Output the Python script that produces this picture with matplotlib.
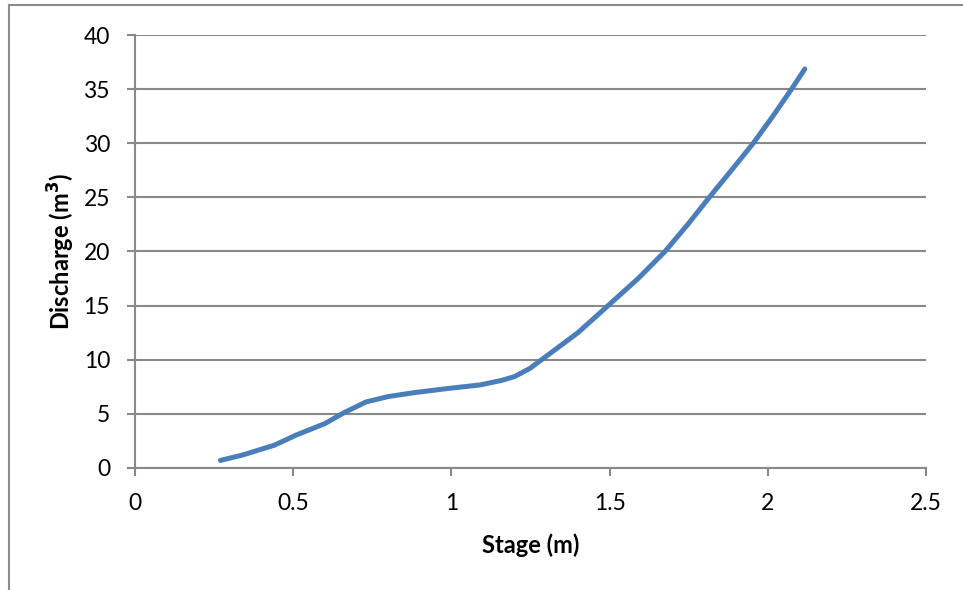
import matplotlib
matplotlib.use("Agg")
import matplotlib.pyplot as plt
from matplotlib.lines import Line2D

# ---- Rating curve
stage = [0.27, 0.34, 0.44, 0.51, 0.60, 0.66, 0.73, 0.80, 0.88, 0.99, 1.09, 1.16,
         1.20, 1.248, 1.285, 1.40, 1.495, 1.59, 1.675, 1.747, 1.815, 1.885, 1.954,
         2.016, 2.075, 2.117]
discharge = [0.7, 1.2, 2.1, 3.05, 4.1, 5.1, 6.1, 6.6, 6.95, 7.35, 7.67, 8.1,
             8.45, 9.2, 10.0, 12.5, 15.0, 17.5, 20.0, 22.5, 25.0, 27.5, 30.0,
             32.5, 35.0, 36.86]

x_ticks = [0, 0.5, 1, 1.5, 2, 2.5]
x_tick_labels = ["0", "0.5", "1", "1.5", "2", "2.5"]
y_ticks = [0, 5, 10, 15, 20, 25, 30, 35, 40]

plt.rcParams["font.family"] = ["Lato", "DejaVu Sans"]

fig = plt.figure(figsize=(9.63, 5.9), dpi=100)
ax = fig.add_axes([135 / 963, 122 / 590, 791 / 963, 433 / 590])

grey = "#898989"

ax.plot(stage, discharge, color="#4a7ebb", linewidth=3.6, solid_capstyle="round",
        solid_joinstyle="round", zorder=3)

ax.set_xlim(0, 2.5)
ax.set_ylim(0, 40)
ax.set_xticks(x_ticks)
ax.set_xticklabels(x_tick_labels)
ax.set_yticks(y_ticks)

ax.yaxis.grid(True, color=grey, linewidth=1.5)
ax.set_axisbelow(True)

for side in ("top", "right"):
    ax.spines[side].set_visible(False)
for side in ("left", "bottom"):
    ax.spines[side].set_color(grey)
    ax.spines[side].set_linewidth(1.5)

ax.tick_params(axis="both", colors=grey, labelcolor="black", labelsize=16.5,
               length=6, width=1.5, direction="out")
ax.tick_params(axis="y", pad=12)
ax.tick_params(axis="x", pad=12)

ax.set_xlabel("Stage (m)", fontsize=17, fontweight="bold", labelpad=14)
ax.set_ylabel("Discharge (m$^\\mathbf{3}$)", fontsize=17, fontweight="bold", labelpad=5)

# ---- Chart frame (only left and top edges show)
fig.add_artist(Line2D([9 / 963, 9 / 963], [0, 1 - 5 / 590], transform=fig.transFigure,
                      color="#8c8c8c", linewidth=1.5))
fig.add_artist(Line2D([9 / 963, 1], [1 - 5 / 590, 1 - 5 / 590], transform=fig.transFigure,
                      color="#8c8c8c", linewidth=1.5))

fig.savefig("out.png", dpi=100)
